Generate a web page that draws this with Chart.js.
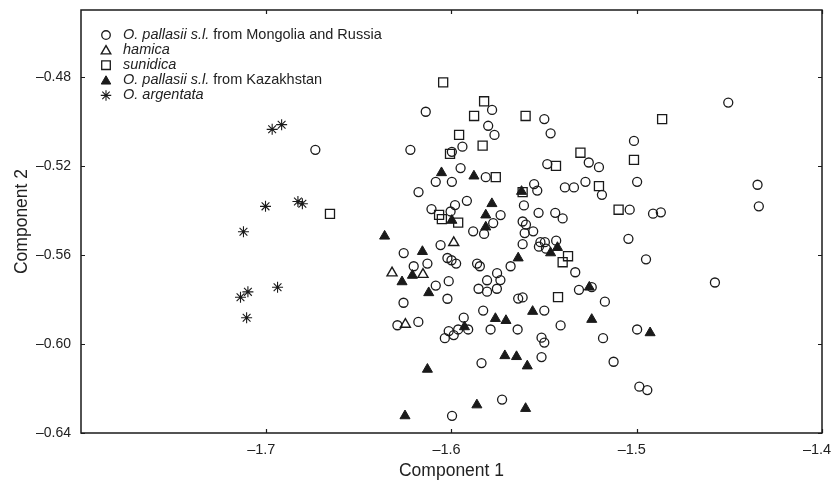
<!DOCTYPE html>
<html><head><meta charset="utf-8">
<script src="https://cdn.jsdelivr.net/npm/chart.js@4.4.0/dist/chart.umd.min.js"></script>
<style>html,body{margin:0;padding:0;background:#fff;}#wrap{width:834px;height:483px;}</style>
</head><body><div id="wrap"><canvas id="c" width="834" height="483"></canvas></div>
<script>
// ---- data (Component 1, Component 2) ----
const mongoliaRussia = [
[-1.6735,-0.5128],[-1.6222,-0.5128],[-1.6139,-0.4957],[-1.5781,-0.4949],[-1.5802,-0.5020],
[-1.5768,-0.5061],[-1.5941,-0.5114],[-1.5998,-0.5137],[-1.5951,-0.5210],[-1.6085,-0.5272],
[-1.5998,-0.5272],[-1.5815,-0.5251],[-1.6178,-0.5318],[-1.5917,-0.5357],[-1.5981,-0.5376],
[-1.6108,-0.5394],[-1.6005,-0.5405],[-1.5735,-0.5421],[-1.5775,-0.5457],[-1.5883,-0.5494],
[-1.5824,-0.5506],[-1.6059,-0.5556],[-1.6258,-0.5592],[-1.6204,-0.5651],[-1.6259,-0.5815],
[-1.6292,-0.5916],[-1.6179,-0.5901],[-1.5499,-0.4990],[-1.5465,-0.5054],[-1.5259,-0.5185],
[-1.5204,-0.5206],[-1.5483,-0.5192],[-1.5554,-0.5282],[-1.5537,-0.5311],[-1.5388,-0.5297],
[-1.5339,-0.5297],[-1.5277,-0.5272],[-1.5188,-0.5330],[-1.5609,-0.5378],[-1.5530,-0.5411],
[-1.5440,-0.5411],[-1.5400,-0.5436],[-1.5616,-0.5450],[-1.5598,-0.5464],[-1.5605,-0.5502],
[-1.5559,-0.5494],[-1.5616,-0.5552],[-1.5520,-0.5543],[-1.5496,-0.5543],[-1.5528,-0.5563],
[-1.5490,-0.5572],[-1.5435,-0.5536],[-1.5681,-0.5651],[-1.5754,-0.5682],[-1.5736,-0.5713],
[-1.5755,-0.5752],[-1.5332,-0.5678],[-1.5243,-0.5745],[-1.5312,-0.5757],[-1.5172,-0.5810],
[-1.5640,-0.5796],[-1.5616,-0.5791],[-1.5499,-0.5850],[-1.5643,-0.5935],[-1.5411,-0.5917],
[-1.5514,-0.5972],[-1.5499,-0.5994],[-1.5182,-0.5974],[-1.5514,-0.6059],[-1.5125,-0.6080],
[-1.5727,-0.6250],[-1.6130,-0.5639],[-1.6022,-0.5614],[-1.6000,-0.5624],[-1.5975,-0.5639],
[-1.5862,-0.5639],[-1.5847,-0.5651],[-1.6085,-0.5738],[-1.6015,-0.5718],[-1.6022,-0.5797],
[-1.5808,-0.5714],[-1.5854,-0.5752],[-1.5808,-0.5765],[-1.5829,-0.5850],[-1.5934,-0.5882],
[-1.6015,-0.5942],[-1.5988,-0.5960],[-1.5964,-0.5935],[-1.5910,-0.5935],[-1.6036,-0.5974],
[-1.5789,-0.5935],[-1.5838,-0.6086],[-1.5997,-0.6323],[-1.4506,-0.4916],[-1.5015,-0.5088],
[-1.4998,-0.5272],[-1.5038,-0.5397],[-1.4912,-0.5415],[-1.4870,-0.5409],[-1.4348,-0.5285],
[-1.4341,-0.5382],[-1.5045,-0.5528],[-1.4950,-0.5620],[-1.4578,-0.5724],[-1.4998,-0.5935],
[-1.4986,-0.6192],[-1.4943,-0.6207]
];
const hamica = [
[-1.5988,-0.5545],[-1.6321,-0.5681],[-1.6154,-0.5688],[-1.6249,-0.5912]
];
const sunidica = [
[-1.6656,-0.5416],[-1.6045,-0.4825],[-1.5824,-0.4910],[-1.5878,-0.4976],[-1.5959,-0.5061],
[-1.5832,-0.5109],[-1.6008,-0.5146],[-1.5761,-0.5251],[-1.6067,-0.5420],[-1.6052,-0.5439],
[-1.5964,-0.5455],[-1.5600,-0.4976],[-1.5304,-0.5141],[-1.5436,-0.5200],[-1.5616,-0.5318],
[-1.5204,-0.5291],[-1.5098,-0.5397],[-1.5371,-0.5606],[-1.5400,-0.5633],[-1.5425,-0.5790],
[-1.4863,-0.4990],[-1.5015,-0.5173]
];
const kazakhstan = [
[-1.6361,-0.5516],[-1.6054,-0.5231],[-1.5879,-0.5246],[-1.5782,-0.5370],[-1.5815,-0.5421],
[-1.5998,-0.5445],[-1.5815,-0.5475],[-1.6157,-0.5585],[-1.6267,-0.5721],[-1.6211,-0.5692],
[-1.6123,-0.5770],[-1.5622,-0.5315],[-1.5428,-0.5567],[-1.5465,-0.5591],[-1.5640,-0.5614],
[-1.5256,-0.5745],[-1.5562,-0.5854],[-1.5763,-0.5886],[-1.5706,-0.5895],[-1.5243,-0.5890],
[-1.5712,-0.6053],[-1.5649,-0.6057],[-1.5591,-0.6099],[-1.6130,-0.6114],[-1.6251,-0.6323],
[-1.5863,-0.6274],[-1.5600,-0.6290],[-1.5930,-0.5923],[-1.4928,-0.5950]
];
const argentata = [
[-1.6968,-0.5036],[-1.6917,-0.5015],[-1.7004,-0.5382],[-1.6829,-0.5360],[-1.6805,-0.5370],
[-1.7123,-0.5496],[-1.6939,-0.5745],[-1.7099,-0.5766],[-1.7139,-0.5790],[-1.7106,-0.5882]
];
const xTickValues = [-1.7, -1.6, -1.5, -1.4];
const yTickValues = [-0.64, -0.60, -0.56, -0.52, -0.48];
const legendRows = [
  [{t:'O. pallasii s.l.', i:true},{t:' from Mongolia and Russia', i:false}],
  [{t:'hamica', i:true}],
  [{t:'sunidica', i:true}],
  [{t:'O. pallasii s.l.', i:true},{t:' from Kazakhstan', i:false}],
  [{t:'O. argentata', i:true}]
];

const FONT = '"Liberation Sans", Arial, Helvetica, sans-serif';
const INK = '#1a1a1a';
const toPts = a => a.map(p => ({x:p[0], y:p[1]}));
const dash = s => s.replace('-', '\u2013');

const styles = [
  {pointStyle:'circle',   radius:4.5, borderWidth:1.3, backgroundColor:'rgba(0,0,0,0)', borderColor:INK},
  {pointStyle:'triangle', radius:5.8, borderWidth:1.4, backgroundColor:'rgba(0,0,0,0)', borderColor:INK},
  {pointStyle:'rect',     radius:6.4, borderWidth:1.3, backgroundColor:'rgba(0,0,0,0)', borderColor:INK},
  {pointStyle:'triangle', radius:5.8, borderWidth:1,   backgroundColor:INK, borderColor:INK},
  {pointStyle:'star',     radius:5.5, borderWidth:1.1, backgroundColor:'rgba(0,0,0,0)', borderColor:INK}
];
const seriesData = [mongoliaRussia, hamica, sunidica, kazakhstan, argentata];

const framePlugin = {
  id:'frame',
  afterDraw(chart){
    const ctx = chart.ctx, a = chart.chartArea;
    const xs = chart.scales.x, ys = chart.scales.y;
    ctx.save();
    ctx.strokeStyle = INK; ctx.lineWidth = 1.5;
    ctx.strokeRect(a.left, a.top, a.right - a.left, a.bottom - a.top);
    ctx.lineWidth = 1.2;
    ctx.beginPath();
    xTickValues.forEach(v => {
      const px = Math.round(xs.getPixelForValue(v)) + 0.5;
      ctx.moveTo(px, a.bottom); ctx.lineTo(px, a.bottom - 4);
      ctx.moveTo(px, a.top); ctx.lineTo(px, a.top + 4);
    });
    yTickValues.forEach(v => {
      const py = Math.round(ys.getPixelForValue(v)) + 0.5;
      ctx.moveTo(a.left, py); ctx.lineTo(a.left + 4, py);
      ctx.moveTo(a.right, py); ctx.lineTo(a.right - 4, py);
    });
    ctx.stroke();
    // legend
    const sx = 106, tx = 123, y0 = 35, dy = 15.1;
    legendRows.forEach((row, k) => {
      const y = y0 + k * dy;
      const st = styles[k];
      ctx.fillStyle = st.backgroundColor; ctx.strokeStyle = st.borderColor; ctx.lineWidth = st.borderWidth;
      const r = st.radius * 0.95;
      if (Chart.helpers && Chart.helpers.drawPoint) {
        Chart.helpers.drawPoint(ctx, {pointStyle:st.pointStyle, radius:r, rotation:0, borderWidth:st.borderWidth}, sx, y + (st.pointStyle==='triangle'?1:0));
      }
      let x = tx;
      ctx.fillStyle = '#222'; ctx.textBaseline = 'middle'; ctx.textAlign = 'left';
      row.forEach(seg => {
        ctx.font = (seg.i ? 'italic ' : '') + '14.5px ' + FONT;
        ctx.fillText(seg.t, x, y);
        x += ctx.measureText(seg.t).width;
      });
    });
    ctx.restore();
  }
};

new Chart(document.getElementById('c'), {
  type:'scatter',
  data:{
    datasets: seriesData.map((d, k) => ({
      label: String(k), data: toPts(d),
      pointRadius: styles[k].radius, pointHoverRadius: styles[k].radius,
      pointStyle: styles[k].pointStyle, borderWidth: styles[k].borderWidth,
      backgroundColor: styles[k].backgroundColor, borderColor: styles[k].borderColor
    }))
  },
  options:{
    responsive:false, animation:false, devicePixelRatio:1,
    layout:{padding:{left:0, right:12, top:10, bottom:0}},
    plugins:{legend:{display:false}, tooltip:{enabled:false}},
    scales:{
      x:{
        type:'linear', min:-1.8, max:-1.4,
        afterBuildTicks: s => { s.ticks = xTickValues.map(v => ({value:v})); },
        afterFit: s => { s.height = 50; s.paddingLeft = 0; s.paddingRight = 0; },
        grid:{display:false, drawTicks:false}, border:{display:false},
        ticks:{padding:8, labelOffset:-5, color:'#222', font:{family:FONT, size:14.5}, maxRotation:0, autoSkip:false,
          callback: v => dash(Number(v).toFixed(1))},
        title:{display:true, text:'Component 1', color:'#222', font:{family:FONT, size:17.5}, padding:{top:0, bottom:1.5}}
      },
      y:{
        type:'linear', min:-0.64, max:-0.45,
        afterBuildTicks: s => { s.ticks = yTickValues.map(v => ({value:v})); },
        afterFit: s => { s.width = 81; s.paddingTop = 0; s.paddingBottom = 0; },
        grid:{display:false, drawTicks:false}, border:{display:false},
        ticks:{padding:10, color:'#222', font:{family:FONT, size:14}, autoSkip:false,
          callback: v => dash(Number(v).toFixed(2))},
        title:{display:true, text:'Component 2', color:'#222', font:{family:FONT, size:17.5}, padding:{top:11.5, bottom:0}}
      }
    }
  },
  plugins:[framePlugin]
});
</script>
</body></html>
